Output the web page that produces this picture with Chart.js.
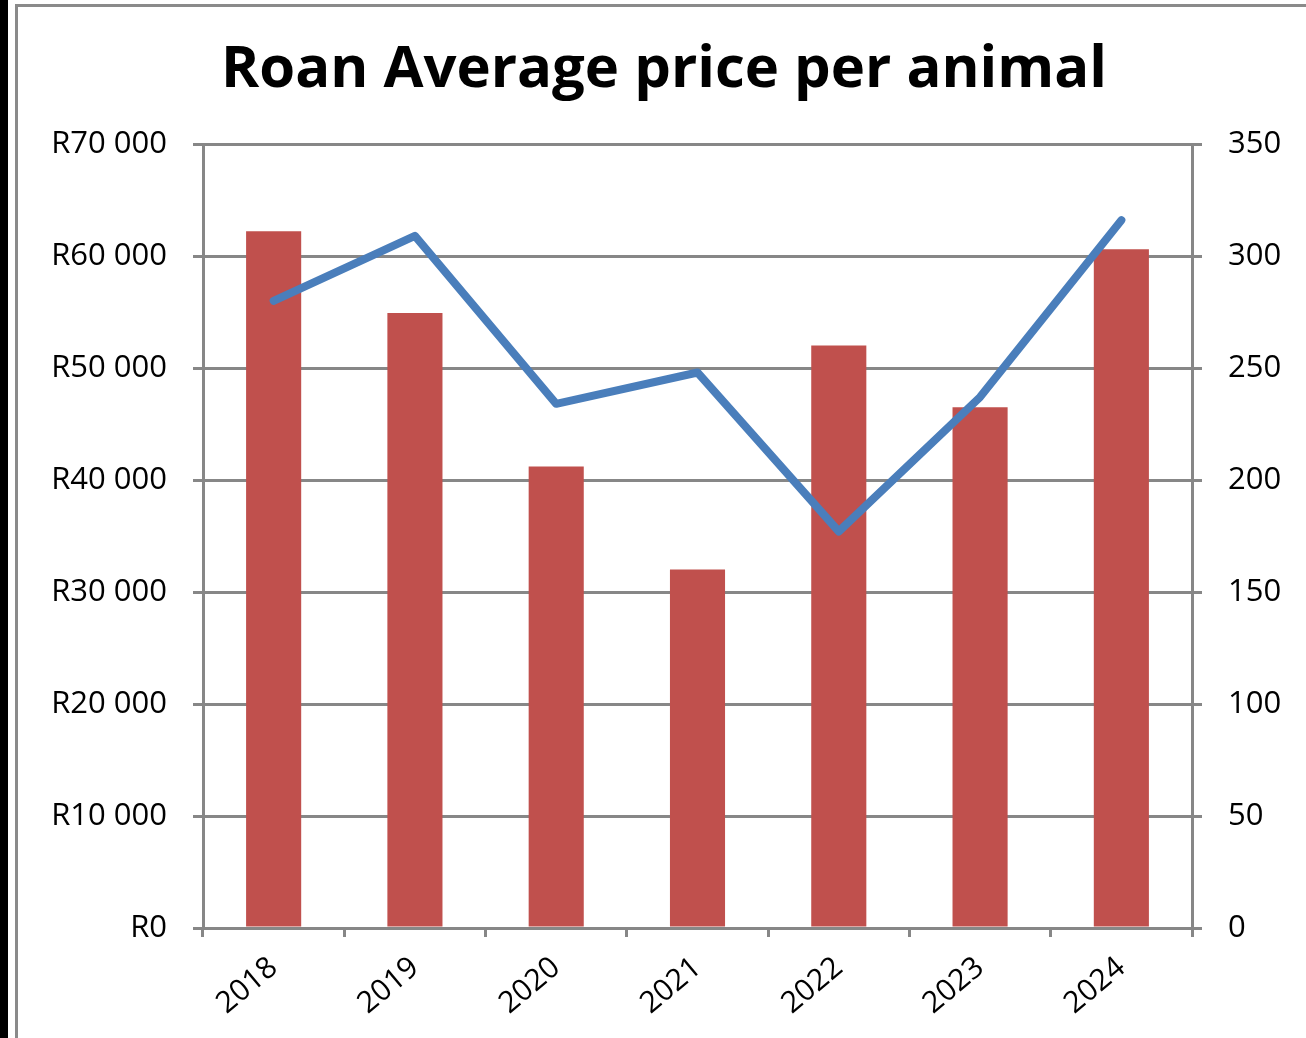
<!DOCTYPE html>
<html>
<head>
<meta charset="utf-8">
<script src="https://cdn.jsdelivr.net/npm/chart.js@4.4.1/dist/chart.umd.min.js"></script>
<style>
  html, body { margin: 0; padding: 0; background: #ffffff; }
  body { width: 1306px; height: 1038px; position: relative; overflow: hidden; }
  #wrap { position: absolute; left: 0; top: 0; width: 1306px; height: 1038px; }
  .blackbar { position: absolute; left: 0; top: 0; width: 8px; height: 1038px; background: #000; }
  .frameL { position: absolute; left: 15px; top: 4px; width: 3px; height: 1034px; background: #8a8a8a; }
  .frameT { position: absolute; left: 15px; top: 4px; width: 1291px; height: 3px; background: #8a8a8a; }
</style>
</head>
<body>
<div id="wrap"><canvas id="c" width="1306" height="1038"></canvas></div>
<div class="blackbar"></div>
<div class="frameL"></div>
<div class="frameT"></div>
<script>
const years = ['2018', '2019', '2020', '2021', '2022', '2023', '2024'];
const avgPrice = [62200, 54900, 41200, 32000, 52000, 46500, 60600];
const animalsSold = [280, 309, 234, 248, 177, 237, 316];
const priceTicks = [0, 10000, 20000, 30000, 40000, 50000, 60000, 70000];
const countTicks = [0, 50, 100, 150, 200, 250, 300, 350];
const chartTitle = 'Roan Average price per animal';

const GRID = '#878787';
const FONT = "'Open Sans', 'Liberation Sans', sans-serif";

function fmtRand(v) {
  const s = String(Math.round(v)).replace(/\B(?=(\d{3})+(?!\d))/g, ' ');
  return 'R' + s;
}

new Chart(document.getElementById('c'), {
  data: {
    labels: years,
    datasets: [
      {
        type: 'line',
        data: animalsSold,
        yAxisID: 'yR',
        borderColor: '#4A7EBB',
        borderWidth: 8,
        pointRadius: 0,
        tension: 0,
        fill: false,
        borderCapStyle: 'round',
        borderJoinStyle: 'round',
        order: 0
      },
      {
        type: 'bar',
        data: avgPrice,
        yAxisID: 'yL',
        backgroundColor: '#C0504D',
        borderWidth: 0,
        categoryPercentage: 1,
        barPercentage: 0.39,
        order: 1
      }
    ]
  },
  options: {
    responsive: false,
    animation: false,
    layout: { padding: { left: 22, right: 0, top: 0, bottom: 0 } },
    plugins: {
      legend: { display: false },
      tooltip: { enabled: false },
      title: {
        display: true,
        text: chartTitle,
        color: '#000',
        font: { family: FONT, size: 58, weight: 'bold', lineHeight: 1.2 },
        padding: { top: 35.2, bottom: 39.2 }
      }
    },
    scales: {
      x: {
        grid: { display: true, drawOnChartArea: false, drawTicks: true, tickLength: 9, color: GRID, lineWidth: 3, offset: true },
        border: { display: true, color: GRID, width: 3 },
        ticks: { color: '#000', font: { family: FONT, size: 30 }, minRotation: 40, maxRotation: 40, padding: 13 },
        afterFit: (s) => { s.height = 110; }
      },
      yL: {
        position: 'left',
        min: 0, max: 70000,
        afterBuildTicks: (s) => { s.ticks = priceTicks.map(v => ({ value: v })); },
        grid: { color: GRID, lineWidth: 3, drawTicks: true, tickLength: 10 },
        border: { display: true, color: GRID, width: 3 },
        ticks: { color: '#000', font: { family: FONT, size: 31 }, padding: 26, callback: (v) => fmtRand(v) },
        afterFit: (s) => { s.width = 181; }
      },
      yR: {
        position: 'right',
        min: 0, max: 350,
        afterBuildTicks: (s) => { s.ticks = countTicks.map(v => ({ value: v })); },
        grid: { drawOnChartArea: false, color: GRID, lineWidth: 3, drawTicks: true, tickLength: 10 },
        border: { display: true, color: GRID, width: 3 },
        ticks: { color: '#000', font: { family: FONT, size: 31 }, padding: 26 },
        afterFit: (s) => { s.width = 114; }
      }
    }
  }
});
</script>
</body>
</html>
